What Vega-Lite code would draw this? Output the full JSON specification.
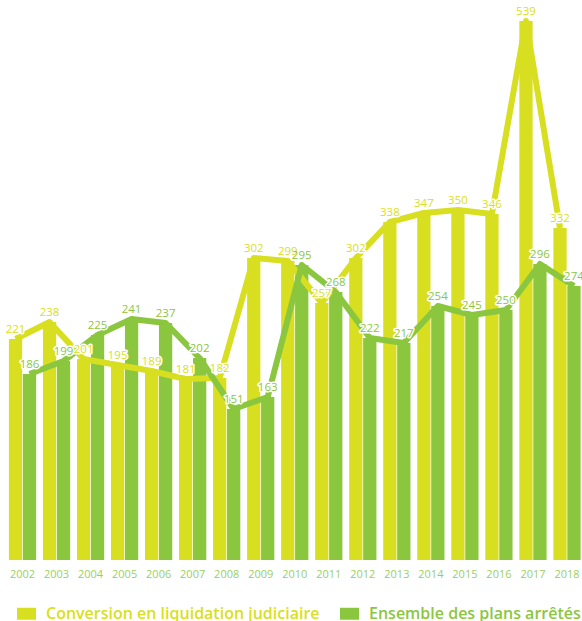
{
  "$schema": "https://vega.github.io/schema/vega-lite/v6.json",
  "width": 582,
  "height": 560,
  "autosize": {"type": "none"},
  "padding": {"left": 0, "top": 0, "right": 0, "bottom": 61},
  "config": {"view": {"stroke": null}, "font": "Open Sans"},
  "data": {
    "values": [
      {"year": "2002", "series": "Conversion en liquidation judiciaire", "value": 221},
      {"year": "2003", "series": "Conversion en liquidation judiciaire", "value": 238},
      {"year": "2004", "series": "Conversion en liquidation judiciaire", "value": 201},
      {"year": "2005", "series": "Conversion en liquidation judiciaire", "value": 195},
      {"year": "2006", "series": "Conversion en liquidation judiciaire", "value": 189},
      {"year": "2007", "series": "Conversion en liquidation judiciaire", "value": 181},
      {"year": "2008", "series": "Conversion en liquidation judiciaire", "value": 182},
      {"year": "2009", "series": "Conversion en liquidation judiciaire", "value": 302},
      {"year": "2010", "series": "Conversion en liquidation judiciaire", "value": 299},
      {"year": "2011", "series": "Conversion en liquidation judiciaire", "value": 257},
      {"year": "2012", "series": "Conversion en liquidation judiciaire", "value": 302},
      {"year": "2013", "series": "Conversion en liquidation judiciaire", "value": 338},
      {"year": "2014", "series": "Conversion en liquidation judiciaire", "value": 347},
      {"year": "2015", "series": "Conversion en liquidation judiciaire", "value": 350},
      {"year": "2016", "series": "Conversion en liquidation judiciaire", "value": 346},
      {"year": "2017", "series": "Conversion en liquidation judiciaire", "value": 539},
      {"year": "2018", "series": "Conversion en liquidation judiciaire", "value": 332},
      {"year": "2002", "series": "Ensemble des plans arrêtés", "value": 186},
      {"year": "2003", "series": "Ensemble des plans arrêtés", "value": 199},
      {"year": "2004", "series": "Ensemble des plans arrêtés", "value": 225},
      {"year": "2005", "series": "Ensemble des plans arrêtés", "value": 241},
      {"year": "2006", "series": "Ensemble des plans arrêtés", "value": 237},
      {"year": "2007", "series": "Ensemble des plans arrêtés", "value": 202},
      {"year": "2008", "series": "Ensemble des plans arrêtés", "value": 151},
      {"year": "2009", "series": "Ensemble des plans arrêtés", "value": 163},
      {"year": "2010", "series": "Ensemble des plans arrêtés", "value": 295},
      {"year": "2011", "series": "Ensemble des plans arrêtés", "value": 268},
      {"year": "2012", "series": "Ensemble des plans arrêtés", "value": 222},
      {"year": "2013", "series": "Ensemble des plans arrêtés", "value": 217},
      {"year": "2014", "series": "Ensemble des plans arrêtés", "value": 254},
      {"year": "2015", "series": "Ensemble des plans arrêtés", "value": 245},
      {"year": "2016", "series": "Ensemble des plans arrêtés", "value": 250},
      {"year": "2017", "series": "Ensemble des plans arrêtés", "value": 296},
      {"year": "2018", "series": "Ensemble des plans arrêtés", "value": 274}
    ]
  },
  "encoding": {
    "x": {
      "field": "year",
      "type": "ordinal",
      "scale": {"range": [5.5, 584], "paddingInner": 0.2, "paddingOuter": 0.1},
      "axis": {
        "title": null,
        "domain": false,
        "ticks": false,
        "labelPadding": 8,
        "labelColor": "#9ccf5a",
        "labelFontSize": 11,
        "labelAngle": 0,
        "labelFont": "Open Sans"
      }
    },
    "xOffset": {
      "field": "series",
      "type": "nominal",
      "sort": ["Conversion en liquidation judiciaire", "Ensemble des plans arrêtés"],
      "scale": {"paddingInner": 0.05}
    },
    "y": {
      "field": "value",
      "type": "quantitative",
      "scale": {"domain": [0, 560]},
      "axis": null
    },
    "color": {
      "field": "series",
      "type": "nominal",
      "scale": {
        "domain": ["Conversion en liquidation judiciaire", "Ensemble des plans arrêtés"],
        "range": ["#d8df20", "#8bc63f"]
      },
      "legend": {
        "orient": "none",
        "legendX": 17,
        "legendY": 604,
        "direction": "horizontal",
        "title": null,
        "padding": 0,
        "symbolType": "M-1,-0.63H1V0.63H-1Z",
        "symbolSize": 361,
        "symbolStrokeWidth": 0,
        "symbolOpacity": 1,
        "labelFontSize": 16,
        "labelFontWeight": 600,
        "labelFont": "Open Sans",
        "labelOffset": 10,
        "labelLimit": 400,
        "columnPadding": 20,
        "encode": {
          "labels": {
            "update": {
              "fill": {"signal": "datum.label === 'Ensemble des plans arrêtés' ? '#8bc63f' : '#d8df20'"}
            }
          }
        }
      }
    }
  },
  "layer": [
    {"mark": {"type": "bar"}},
    {"mark": {"type": "line", "strokeWidth": 6, "strokeJoin": "round"}},
    {
      "mark": {"type": "text", "baseline": "bottom", "dy": -4, "fontSize": 11.5, "fontWeight": 500, "font": "Open Sans", "stroke": "white", "strokeWidth": 3, "strokeJoin": "round"},
      "encoding": {"text": {"field": "value", "type": "quantitative"}, "color": {"value": "white"}}
    },
    {
      "mark": {"type": "text", "baseline": "bottom", "dy": -4, "fontSize": 11.5, "fontWeight": 500, "font": "Open Sans"},
      "encoding": {"text": {"field": "value", "type": "quantitative"}}
    }
  ]
}
